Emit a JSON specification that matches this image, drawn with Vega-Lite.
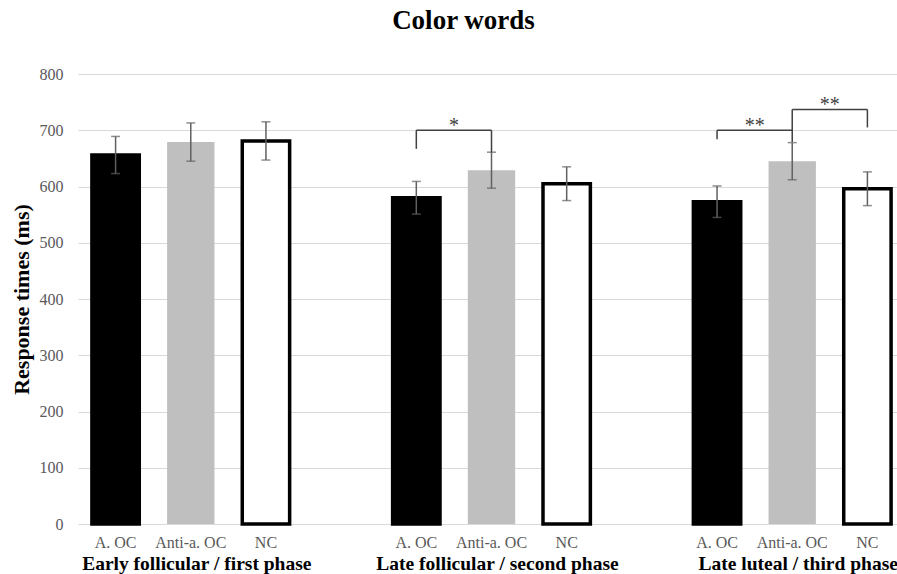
{
  "$schema": "https://vega.github.io/schema/vega-lite/v6.json",
  "autosize": "none",
  "width": 819,
  "height": 450,
  "padding": {"left": 78, "top": 74, "right": 0, "bottom": 50},
  "title": {"text": "Color words", "fontSize": 27, "fontWeight": "bold", "font": "Liberation Serif", "color": "#000000", "anchor": "middle", "dx": -24, "offset": 31},
  "config": {"font": "Liberation Serif", "view": {"stroke": null}},
  "datasets": {
    "bars": [
      {"key": "1|A. OC", "phase": "Early follicular / first phase", "group": "A. OC", "mean": 656, "err": 33},
      {"key": "1|Anti-a. OC", "phase": "Early follicular / first phase", "group": "Anti-a. OC", "mean": 679, "err": 34},
      {"key": "1|NC", "phase": "Early follicular / first phase", "group": "NC", "mean": 681, "err": 34},
      {"key": "2|A. OC", "phase": "Late follicular / second phase", "group": "A. OC", "mean": 580, "err": 29},
      {"key": "2|Anti-a. OC", "phase": "Late follicular / second phase", "group": "Anti-a. OC", "mean": 629, "err": 32},
      {"key": "2|NC", "phase": "Late follicular / second phase", "group": "NC", "mean": 605, "err": 30},
      {"key": "3|A. OC", "phase": "Late luteal / third phase", "group": "A. OC", "mean": 573, "err": 28},
      {"key": "3|Anti-a. OC", "phase": "Late luteal / third phase", "group": "Anti-a. OC", "mean": 645, "err": 33},
      {"key": "3|NC", "phase": "Late luteal / third phase", "group": "NC", "mean": 596, "err": 30}
    ],
    "brackets": [
      {"x1": "2|A. OC", "x2": "2|A. OC", "y1": 667, "y2": 700},
      {"x1": "2|A. OC", "x2": "2|Anti-a. OC", "y1": 700, "y2": 700},
      {"x1": "2|Anti-a. OC", "x2": "2|Anti-a. OC", "y1": 661, "y2": 700},
      {"x1": "3|A. OC", "x2": "3|A. OC", "y1": 684, "y2": 700},
      {"x1": "3|A. OC", "x2": "3|Anti-a. OC", "y1": 700, "y2": 700},
      {"x1": "3|Anti-a. OC", "x2": "3|Anti-a. OC", "y1": 679, "y2": 737},
      {"x1": "3|Anti-a. OC", "x2": "3|NC", "y1": 737, "y2": 737},
      {"x1": "3|NC", "x2": "3|NC", "y1": 705, "y2": 737}
    ],
    "stars": [
      {"x": "2|A. OC", "y": 700, "label": "*"},
      {"x": "3|A. OC", "y": 700, "label": "**"},
      {"x": "3|Anti-a. OC", "y": 737, "label": "**"}
    ]
  },
  "layer": [
    {
      "data": {"name": "bars"},
      "mark": {"type": "bar", "width": {"band": 0.63}, "stroke": "#000000"},
      "encoding": {
        "x": {
          "field": "key", "type": "nominal",
          "scale": {"type": "band", "domain": ["1|A. OC", "1|Anti-a. OC", "1|NC", "gap1", "2|A. OC", "2|Anti-a. OC", "2|NC", "gap2", "3|A. OC", "3|Anti-a. OC", "3|NC"], "range": [0, 827], "paddingInner": 0, "paddingOuter": 0},
          "axis": {"title": null, "domain": false, "ticks": false, "labelAngle": 0, "labelFontSize": 16, "labelColor": "#595959", "labelPadding": 10, "labelOverlap": false, "labelBound": false, "labelLimit": 200, "labelExpr": "indexof(datum.value, '|') >= 0 ? split(datum.value, '|')[1] : ''"}
        },
        "y": {
          "field": "mean", "type": "quantitative",
          "scale": {"domain": [0, 800], "nice": false},
          "title": "Response times (ms)",
          "axis": {"title": "Response times (ms)", "titleFontSize": 22, "titleFontWeight": "bold", "titleColor": "#000000", "titlePadding": 6, "values": [0, 100, 200, 300, 400, 500, 600, 700, 800], "domain": false, "ticks": false, "labelFontSize": 16, "labelColor": "#595959", "labelPadding": 15, "gridColor": "#D9D9D9", "gridWidth": 1}
        },
        "fill": {"field": "group", "type": "nominal", "scale": {"domain": ["A. OC", "Anti-a. OC", "NC"], "range": ["#000000", "#BFBFBF", "#FFFFFF"]}, "legend": null},
        "strokeWidth": {"condition": {"test": "datum.group == 'Anti-a. OC'", "value": 0}, "value": 3.5}
      }
    },
    {
      "data": {"name": "bars"},
      "mark": {"type": "errorbar", "ticks": true, "color": "#606060", "thickness": 1.5, "size": 9},
      "encoding": {
        "x": {"field": "key", "type": "nominal"},
        "y": {"field": "mean", "type": "quantitative", "title": "Response times (ms)"},
        "yError": {"field": "err"}
      }
    },
    {
      "data": {"name": "brackets"},
      "mark": {"type": "rule", "color": "#404040", "strokeWidth": 1.5},
      "encoding": {
        "x": {"field": "x1", "type": "nominal", "bandPosition": 0.5},
        "x2": {"field": "x2", "bandPosition": 0.5},
        "y": {"field": "y1", "type": "quantitative"},
        "y2": {"field": "y2"}
      }
    },
    {
      "data": {"name": "stars"},
      "mark": {"type": "text", "fontSize": 20, "color": "#404040", "baseline": "alphabetic", "align": "center", "dy": 2},
      "encoding": {
        "x": {"field": "x", "type": "nominal", "bandPosition": 1},
        "y": {"field": "y", "type": "quantitative"},
        "text": {"field": "label"}
      }
    },
    {
      "data": {"name": "bars"},
      "transform": [{"filter": "datum.group == 'Anti-a. OC'"}],
      "mark": {"type": "text", "fontSize": 19.5, "fontWeight": "bold", "color": "#000000", "baseline": "alphabetic", "align": "center", "dy": 46, "dx": 6},
      "encoding": {
        "x": {"field": "key", "type": "nominal"},
        "y": {"datum": 0, "type": "quantitative"},
        "text": {"field": "phase"}
      }
    }
  ]
}
